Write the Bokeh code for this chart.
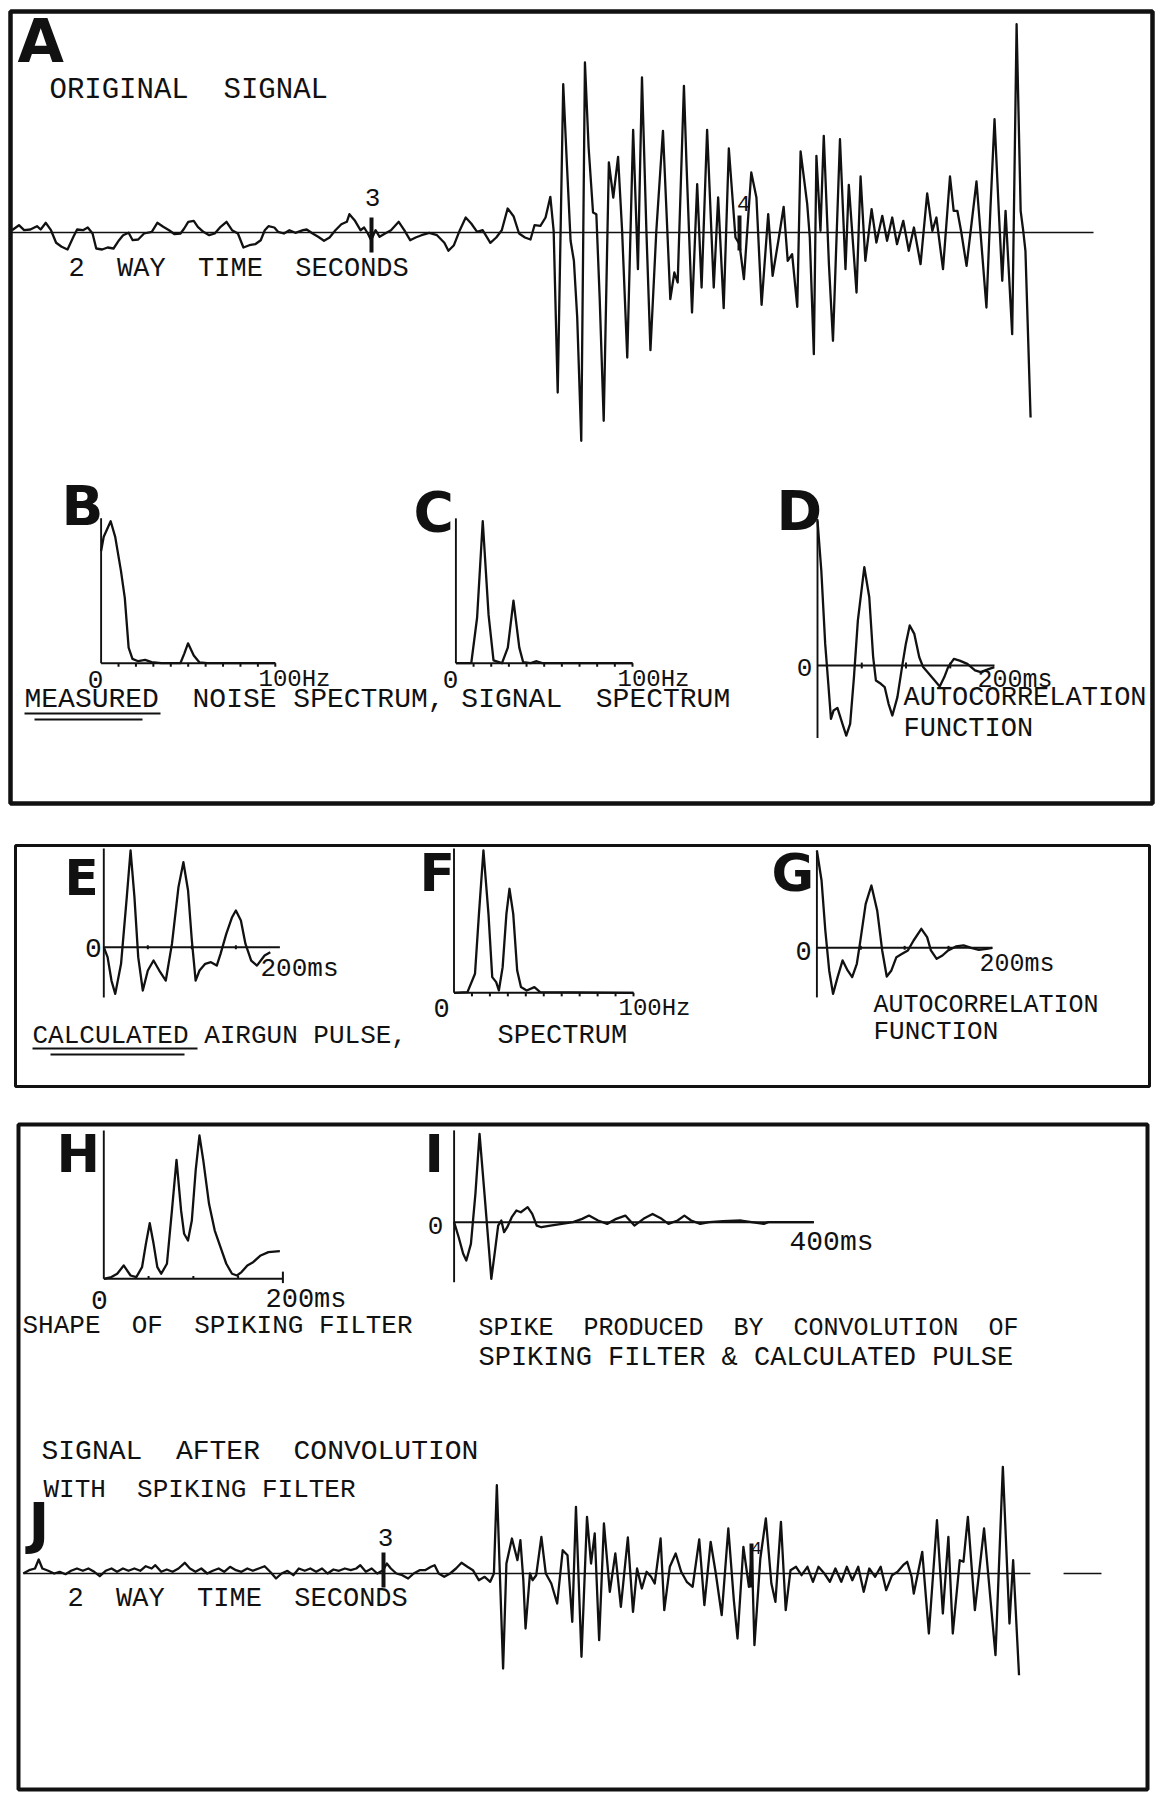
from bokeh.plotting import figure
from bokeh.models import Range1d
from bokeh.embed import file_html
from bokeh.resources import INLINE
from bokeh.core.properties import value

# ---------------- data ----------------
# A: original signal (two-way time in s, amplitude arbitrary units)
A_noise_t = [2.023, 2.042, 2.056, 2.073, 2.091, 2.101, 2.115, 2.129, 2.143, 2.158,
             2.174, 2.190, 2.200, 2.216, 2.229, 2.242, 2.252, 2.268, 2.283, 2.299,
             2.314, 2.325, 2.340, 2.351, 2.366, 2.382, 2.403, 2.418, 2.434, 2.450,
             2.465, 2.481, 2.491, 2.502, 2.517, 2.528, 2.543, 2.559, 2.574, 2.590,
             2.606, 2.621, 2.637, 2.652, 2.668, 2.684, 2.699, 2.710, 2.720, 2.736,
             2.746, 2.762, 2.777, 2.793, 2.814, 2.824, 2.840, 2.855, 2.871, 2.886,
             2.902, 2.918, 2.933, 2.940, 2.954, 2.970, 2.980, 2.990, 2.999, 3.011,
             3.022, 3.037, 3.053, 3.074, 3.089, 3.105, 3.120, 3.136, 3.157, 3.178,
             3.198, 3.209, 3.224, 3.240, 3.256, 3.271, 3.287, 3.302, 3.323, 3.339,
             3.354, 3.370, 3.386, 3.401, 3.417, 3.432, 3.443]
A_noise_amp = [2.3, 7.3, 2.3, 3.0, 6.3, 3.0, 9.7, 2.3, -10.3, -14.3,
               -17.0, -4.3, 3.0, 2.3, 5.0, -1.0, -16.0, -17.0, -15.0, -16.0,
               -7.7, -2.7, -0.3, -7.7, -7.0, -1.0, 0.7, 9.7, 5.7, 2.3,
               -1.7, -1.0, 4.0, 10.7, 11.7, 5.7, 0.7, -2.7, -1.0, 5.7,
               10.7, 2.3, -1.0, -15.0, -12.7, -11.7, -7.7, 2.3, 6.3, 5.0,
               0.7, -1.0, 2.3, -0.3, 2.3, 3.0, -1.0, -4.3, -8.3, -5.0,
               2.3, 8.3, 10.7, 18.3, 12.3, 2.3, 5.0, -1.0, -7.7, 2.3,
               -4.3, -1.0, 2.3, 10.7, 2.3, -7.7, -5.0, -2.7, -0.3, -2.7,
               -10.3, -18.3, -12.7, 2.3, 15.0, 9.0, 0.7, 2.3, -10.3, -5.0,
               2.3, 24.0, 16.3, -1.0, -5.0, -7.0, 7.3]
A_sig_t = [3.459, 3.473, 3.486, 3.495, 3.506, 3.521, 3.531, 3.541, 3.550, 3.559,
           3.570, 3.580, 3.590, 3.602, 3.611, 3.620, 3.631, 3.645, 3.657, 3.670,
           3.681, 3.695, 3.711, 3.724, 3.735, 3.747, 3.758, 3.774, 3.792, 3.812,
           3.823, 3.832, 3.849, 3.856, 3.871, 3.885, 3.897, 3.912, 3.930, 3.942,
           3.957, 3.971, 3.989, 4.000, 4.012, 4.032, 4.046, 4.060, 4.078, 4.090,
           4.107, 4.120, 4.131, 4.143, 4.157, 4.166, 4.184, 4.191, 4.202, 4.209,
           4.220, 4.229, 4.243, 4.254, 4.273, 4.288, 4.297, 4.318, 4.329, 4.342,
           4.359, 4.372, 4.388, 4.401, 4.415, 4.428, 4.445, 4.460, 4.474, 4.492,
           4.510, 4.524, 4.535, 4.553, 4.572, 4.582, 4.592, 4.602, 4.617, 4.644,
           4.671, 4.682, 4.693, 4.705, 4.714, 4.723, 4.741, 4.753, 4.764, 4.771,
           4.777, 4.791]
A_sig_amp = [6.7, 15.0, 35.7, 1.7, -160.0, 148.3, 68.3, -8.3, -28.3, -85.0,
             -208.3, 170.0, 85.0, 20.0, 18.3, -65.0, -188.3, 70.0, 35.0, 75.7,
             1.7, -125.0, 102.7, -36.7, 155.0, 1.7, -117.7, 1.7, 101.7, -66.7,
             -40.0, -50.0, 146.7, 68.3, -80.0, 48.3, -55.0, 102.7, -55.0, 35.0,
             -75.7, 84.0, -5.0, -11.7, -46.7, 60.0, 35.0, -72.3, 18.3, -43.3,
             -5.0, 25.7, -28.3, -21.7, -74.3, 81.0, 28.3, -5.0, -121.7, 76.7,
             1.7, 96.7, -31.7, -108.3, 93.3, -36.7, 47.7, -60.0, 56.0, -28.3,
             23.3, -10.0, 16.7, -8.3, 15.0, -11.7, 11.7, -18.3, 5.0, -31.7,
             39.0, 1.7, 15.0, -36.7, 56.0, 21.7, 21.7, 1.7, -33.3, 51.0,
             -75.0, 25.0, 113.3, 18.3, -48.3, 21.7, -101.7, 208.3, 21.7, 1.7,
             -18.3, -185.0]

# J: signal after convolution with spiking filter
J_noise_t = [2.021, 2.037, 2.053, 2.063, 2.073, 2.089, 2.105, 2.120, 2.136, 2.151,
             2.167, 2.183, 2.198, 2.214, 2.229, 2.245, 2.261, 2.276, 2.292, 2.307,
             2.323, 2.339, 2.354, 2.370, 2.380, 2.396, 2.411, 2.427, 2.443, 2.460,
             2.474, 2.489, 2.505, 2.521, 2.536, 2.552, 2.567, 2.583, 2.599, 2.614,
             2.630, 2.645, 2.661, 2.677, 2.692, 2.708, 2.723, 2.739, 2.755, 2.770,
             2.786, 2.801, 2.817, 2.833, 2.848, 2.864, 2.879, 2.895, 2.911, 2.926,
             2.937, 2.952, 2.968, 2.983, 2.999, 3.009, 3.020, 3.035, 3.051, 3.067,
             3.082, 3.098, 3.113, 3.129, 3.139, 3.150, 3.165, 3.181, 3.197, 3.212,
             3.228, 3.243, 3.259, 3.275, 3.290]
J_noise_amp = [0, 3.3, 5.0, 14.0, 5.0, 2.7, 0, 1.7, -0.7, 2.7,
               5.0, 2.7, 5.0, 1.7, -2.7, 2.7, 5.0, 1.7, 5.0, 2.7,
               5.0, 2.7, 7.3, 5.0, 8.3, 1.7, 4.0, 1.7, 5.0, 10.7,
               5.0, 1.7, 5.0, 0, 2.7, 5.0, 1.7, 6.7, 3.3, 1.7,
               5.0, 2.7, 5.0, 7.3, 1.7, -5.0, 0, 2.7, -1.7, 5.0,
               2.7, 5.0, 1.7, 5.0, 0, 4.0, 2.7, 5.0, 3.3, 5.0,
               8.3, 1.7, 5.0, 0, 3.3, 10.0, 5.0, 0, -1.7, -5.0,
               0, 3.3, 3.3, 6.7, 8.3, 0, -3.3, 0, 5.0, 10.7,
               6.7, 3.3, -6.7, -3.3, -8.3]
J_sig_t = [3.300, 3.308, 3.325, 3.334, 3.349, 3.364, 3.372, 3.380, 3.386, 3.398,
           3.405, 3.415, 3.429, 3.441, 3.456, 3.472, 3.487, 3.500, 3.513, 3.523,
           3.538, 3.553, 3.564, 3.574, 3.586, 3.599, 3.615, 3.630, 3.645, 3.664,
           3.678, 3.689, 3.702, 3.715, 3.727, 3.737, 3.753, 3.763, 3.778, 3.794,
           3.809, 3.824, 3.840, 3.858, 3.872, 3.889, 3.903, 3.919, 3.937, 3.952,
           3.962, 3.978, 3.993, 4.001, 4.008, 4.024, 4.039, 4.054, 4.065, 4.080,
           4.093, 4.106, 4.121, 4.136, 4.152, 4.167, 4.182, 4.198, 4.213, 4.228,
           4.244, 4.259, 4.274, 4.290, 4.305, 4.320, 4.336, 4.351, 4.366, 4.382,
           4.397, 4.412, 4.423, 4.435, 4.441, 4.464, 4.482, 4.504, 4.520, 4.535,
           4.547, 4.566, 4.576, 4.588, 4.607, 4.632, 4.663, 4.683, 4.701, 4.711,
           4.727]
J_sig_amp = [0, 88.3, -95.0, 10.0, 35.0, 13.3, 33.3, -6.7, -55.0, 0,
             -6.7, -1.7, 36.7, 0, -10.0, -30.0, 23.3, 18.3, -48.3, 66.7,
             -83.3, 56.7, 10.0, 40.0, -66.7, 50.0, -18.3, 20.0, -33.3, 36.0,
             -38.3, 5.0, -15.0, 1.7, -3.3, -10.0, 35.0, -36.7, 6.7, 20.0,
             1.7, -8.3, -13.3, 34.0, -31.7, 31.7, 0, -41.7, 45.0, -26.7,
             -65.0, 26.7, -13.3, 18.3, -71.7, 15.0, 55.0, -10.0, -28.3, 51.7,
             -36.7, 3.3, 6.7, -1.7, 6.7, -8.3, 6.7, 0, -8.3, 5.0,
             -8.3, 6.7, -6.7, 6.7, -18.3, 5.0, -3.3, 6.7, -16.7, -1.7,
             1.7, 8.3, 11.7, -3.3, -20.0, 21.7, -60.0, 53.3, -40.0, 36.7,
             -60.0, 13.3, 11.7, 56.7, -36.7, 45.0, -81.7, 106.7, -50.0, 13.3,
             -101.7]
TIME_MARKS = [3, 4]
TRACE_START, A_END, J_END = 2.022, 4.962, 4.758

# B: measured noise spectrum (Hz, relative amplitude)
B_hz = [0, 1.5, 5.5, 8.1, 11.4, 13.6, 15.8, 18, 21.3, 25.3, 29, 34.5, 45.5, 47.7, 49.9, 53.2, 56.5, 61, 100]
B_amp = [0.79, 0.89, 1.0, 0.89, 0.65, 0.46, 0.11, 0.03, 0.014, 0.023, 0.007, 0, 0, 0.066, 0.14, 0.054, 0.005, 0, 0]
# C: measured signal spectrum
C_hz = [0, 8.7, 12.0, 15.2, 18.5, 21.3, 26.1, 29.4, 32.6, 35.9, 38.1, 42.4, 45.7, 48.9, 100]
C_amp = [0, 0, 0.32, 1.0, 0.34, 0.02, 0, 0.11, 0.44, 0.11, 0.007, 0, 0.014, 0, 0]
# D: measured autocorrelation (ms)
D_ms = [0, 4.3, 8.7, 12.2, 15.2, 18.2, 22.5, 28.2, 32.5, 36.9, 41.2, 45.6, 52.9, 58.5, 62.9, 66.0,
        71.6, 75.9, 80.3, 84.6, 90.3, 95.5, 99.8, 104.2, 109.4, 115.0, 119.4, 125.9, 132.4, 138.1,
        143.3, 147.6, 154.1, 160.6, 169.3, 178.0, 184.5, 191.0, 199.8]
D_amp = [1.0, 0.655, 0.149, -0.126, -0.368, -0.310, -0.292, -0.402, -0.483, -0.402, -0.08, 0.31,
         0.678, 0.471, 0.057, -0.103, -0.126, -0.149, -0.264, -0.345, -0.218, -0.011, 0.149, 0.276,
         0.218, 0.057, -0.011, -0.057, -0.103, -0.145, -0.080, -0.011, 0.046, 0.034, 0.011, -0.034,
         -0.046, -0.030, -0.011]
# E: calculated airgun pulse
E_ms = [0, 4.3, 8.7, 13.0, 19.6, 26.1, 30.4, 34.8, 39.1, 44.3, 50.0, 56.5, 63.0, 70.4, 77.4, 84.8,
        90.4, 95.7, 100.0, 104.3, 108.7, 115.2, 121.7, 128.3, 132.6, 139.1, 145.7, 150.0, 155.7,
        160.9, 167.4, 173.9, 182.6, 189.1]
E_amp = [0, -0.103, -0.345, -0.483, -0.172, 0.517, 1.0, 0.517, -0.103, -0.448, -0.241, -0.138,
         -0.241, -0.345, 0.034, 0.621, 0.879, 0.586, 0.069, -0.345, -0.241, -0.172, -0.155, -0.190,
         -0.069, 0.138, 0.310, 0.379, 0.276, 0.034, -0.138, -0.190, -0.086, -0.052]
# F: spectrum of calculated pulse
F_hz = [0, 7.5, 11.7, 13.9, 16.4, 19.2, 21.3, 23.5, 25.0, 27.1, 29.2, 30.9, 33.0, 35.2, 37.3, 40.5, 44.8, 48.0, 100]
F_amp = [0, 0.005, 0.134, 0.555, 1.0, 0.555, 0.110, 0.075, 0.016, 0.180, 0.555, 0.731, 0.555, 0.157,
         0.040, 0.016, 0.040, 0.005, 0]
# G: autocorrelation of calculated pulse
G_ms = [0, 5.3, 9.6, 14.0, 18.4, 23.6, 29.3, 35.0, 40.2, 45.5, 49.0, 55.6, 62.1, 68.7, 74.4, 79.6,
        84.9, 90.6, 97.1, 103.7, 110.2, 119.0, 125.6, 129.9, 136.5, 143.1, 149.6, 158.4, 167.2,
        175.8, 184.6, 193.4, 200]
G_amp = [1.0, 0.692, 0.178, -0.233, -0.473, -0.301, -0.130, -0.233, -0.301, -0.164, 0.041, 0.452,
         0.640, 0.384, -0.027, -0.295, -0.233, -0.096, -0.062, -0.027, 0.075, 0.195, 0.110, -0.027,
         -0.113, -0.079, -0.027, 0.014, 0.024, 0, -0.021, -0.010, 0]
# H: shape of spiking filter
H_ms = [0, 8.5, 15.0, 22.2, 29.9, 36.3, 42.7, 47.0, 51.3, 55.6, 59.8, 64.1, 70.5, 76.1, 81.2, 86.3,
        89.7, 94.0, 98.3, 102.6, 106.8, 111.1, 117.5, 123.9, 130.3, 136.8, 143.2, 148.7, 153.8,
        160.3, 166.7, 175.2, 183.8, 196.6]
H_amp = [0, 0.012, 0.035, 0.093, 0.023, 0.012, 0.081, 0.244, 0.388, 0.244, 0.081, 0.035, 0.105,
         0.477, 0.830, 0.477, 0.314, 0.267, 0.407, 0.756, 1.0, 0.826, 0.523, 0.337, 0.221, 0.105,
         0.035, 0.023, 0.047, 0.093, 0.116, 0.163, 0.186, 0.193]
# I: spike produced by convolution
I_ms = [0, 5.1, 10.1, 13.6, 18.7, 23.7, 28.3, 33.8, 38.9, 41.4, 45.5, 49.0, 52.5, 55.6, 59.1, 64.1,
        69.2, 74.2, 81.8, 86.9, 91.9, 97.0, 107.1, 119.7, 132.3, 142.4, 150.0, 160.1, 170.2, 180.3,
        190.4, 200.5, 210.6, 220.7, 230.8, 238.4, 248.5, 256.1, 263.6, 273.7, 283.8, 299.0, 319.2,
        344.4, 349.5, 400]
I_amp = [0, -0.170, -0.358, -0.434, -0.245, 0.321, 1.0, 0.321, -0.321, -0.642, -0.321, -0.038,
         0.019, -0.113, -0.057, 0.057, 0.132, 0.113, 0.170, 0.094, -0.038, -0.057, -0.038, -0.019,
         0, 0.038, 0.075, 0.019, -0.019, 0.038, 0.075, -0.038, 0.038, 0.094, 0.038, -0.019, 0.019,
         0.075, 0.019, -0.019, 0, 0.011, 0.019, -0.019, 0, 0]

HZ_TICKS = [10, 20, 30, 40, 50, 60, 70, 80, 90, 100]
MS_TICKS = [50, 100, 150]

# ---------------- page figure ----------------
W, H = 1162, 1795
p = figure(width=W, height=H, x_range=Range1d(0, W), y_range=Range1d(H, 0),
           output_backend="svg", toolbar_location=None, min_border=0,
           x_axis_location=None, y_axis_location=None)
p.xgrid.visible = False
p.ygrid.visible = False
p.outline_line_color = None
p.background_fill_color = "white"
p.border_fill_color = "white"

XR, YR = {}, {}


def panel(name, xd, xp, yd, yp):
    """Place a sub-panel: data xd/yd map to page pixels xp/yp."""
    (d0, d1), (px0, px1) = xd, xp
    s = (px1 - px0) / (d1 - d0)
    XR[name] = Range1d(d0 - px0 / s, d0 + (W - px0) / s)
    (v0, v1), (py0, py1) = yd, yp
    k = (v1 - v0) / (py1 - py0)
    YR[name] = Range1d(v0 + (H - py0) * k, v0 + (0 - py0) * k)


panel("A", (3, 4), (371, 739), (0, 100), (232, 132))
panel("J", (3, 4), (383, 751), (0, 100), (1573, 1473))
panel("B", (0, 100), (100.6, 274.8), (0, 1), (662.7, 520.7))
panel("C", (0, 100), (455.4, 632), (0, 1), (662.7, 520.7))
panel("D", (0, 200), (817, 994), (0, 1), (665, 520))
panel("E", (0, 200), (103.3, 279.4), (0, 1), (946.7, 850))
panel("F", (0, 100), (453.5, 633), (0, 1), (992.3, 850))
panel("G", (0, 200), (816.4, 991.9), (0, 1), (947.3, 850))
panel("H", (0, 200), (103.3, 282.4), (0, 1), (1278.3, 1135))
panel("I", (0, 400), (453.6, 813.3), (0, 1), (1221.7, 1133.4))
p.extra_x_ranges = XR
p.extra_y_ranges = YR

INK = "#111111"
LW = 2.3


def ln(name, x, y, w=LW):
    p.line(x, y, x_range_name=name, y_range_name=name, line_color=INK,
           line_width=w, line_join="round")


def ticks(name, xs, y0, y1, w=2.0):
    p.segment(x0=xs, y0=[y0] * len(xs), x1=xs, y1=[y1] * len(xs),
              x_range_name=name, y_range_name=name, line_color=INK, line_width=w)


# frames
p.quad(left=[10, 15, 18], right=[1152, 1149, 1147], top=[11, 845, 1124],
       bottom=[803, 1086, 1789], fill_color=None, line_color=INK, line_width=[4.5, 3, 4])

# A
ln("A", [TRACE_START, A_END], [0, 0], 1.7)
ln("A", A_noise_t + A_sig_t, A_noise_amp + A_sig_amp)
p.segment(x0=TIME_MARKS, y0=[15, 17], x1=TIME_MARKS, y1=[-20, -18],
          x_range_name="A", y_range_name="A", line_color=INK, line_width=4)
# J
ln("J", [TRACE_START, J_END], [0, 0], 1.7)
ln("J", [4.848, 4.951], [0, 0], 1.7)
ln("J", J_noise_t + J_sig_t, J_noise_amp + J_sig_amp)
p.segment(x0=TIME_MARKS, y0=[21, 30], x1=TIME_MARKS, y1=[-14, -14],
          x_range_name="J", y_range_name="J", line_color=INK, line_width=4)

# spectra
for nm, xs, ys, top in (("B", B_hz, B_amp, 1.02), ("C", C_hz, C_amp, 1.02), ("F", F_hz, F_amp, 1.014)):
    ln(nm, [0, 0], [0, top], 1.9)
    ln(nm, [0, 100], [0, 0], 2.1)
    ticks(nm, HZ_TICKS, 0, -0.025)
    ln(nm, xs, ys)

# autocorrelations / pulse
for nm, xs, ys, lo, hi in (("D", D_ms, D_amp, -0.5, 1.01), ("E", E_ms, E_amp, -0.52, 1.02),
                           ("G", G_ms, G_amp, -0.51, 1.0)):
    ln(nm, [0, 0], [lo, hi], 1.9)
    ln(nm, [0, 200], [0, 0], 1.9)
    ticks(nm, MS_TICKS, -0.02, 0.02)
    ln(nm, xs, ys)

# H
ln("H", [0, 0], [0, 1.035], 1.9)
ln("H", [0, 200], [0, 0], 1.9)
ticks("H", MS_TICKS, 0, 0.02)
ticks("H", [200], -0.03, 0.05)
ln("H", H_ms, H_amp)
# I
ln("I", [0, 0], [-0.68, 1.04], 1.9)
ln("I", [0, 400], [0, 0], 1.9)
ln("I", I_ms, I_amp)

# underlines
for x0, x1, y in ((24, 160, 713), (34, 142, 719), (32, 197, 1048), (50, 184, 1054)):
    p.line([x0, x1], [y, y], line_color=INK, line_width=2)

# panel letters (y = vertical centre of the glyph)
LETTERS = [("A", 17, 40, 60), ("B", 61, 505, 55), ("C", 413, 511, 55), ("D", 776, 510, 55),
           ("E", 64, 877, 50), ("F", 419, 872, 52), ("G", 771, 872, 52), ("H", 56, 1153, 52),
           ("I", 424, 1153, 52), ("J", 28, 1522, 56)]
for t, x, y, s in LETTERS:
    p.text(x=[x], y=[y], text=[t], text_font=value("DejaVu Sans"), text_font_style="bold",
           text_font_size=f"{s}px", text_align="left", text_baseline="middle", text_color=INK)

NB = "\u00a0"  # keeps the wide word gaps of the original lettering
TEXTS = [
    (f"ORIGINAL{NB} SIGNAL", 49, 90, 29, "left"),
    (f"2{NB} WAY{NB} TIME{NB} SECONDS", 68, 268.5, 27, "left"),
    ("3", 372, 197, 26, "center"),
    ("4", 743, 203, 22, "center"),
    ("0", 95, 678.5, 26, "center"),
    ("100Hz", 258, 678.5, 24, "left"),
    ("0", 450, 678.5, 26, "center"),
    ("100Hz", 617, 678.5, 24, "left"),
    ("0", 804, 666.5, 26, "center"),
    ("200ms", 977, 680, 25, "left"),
    ("AUTOCORRELATION", 903, 697, 27, "left"),
    ("FUNCTION", 903, 728.5, 27, "left"),
    (f"MEASURED{NB} NOISE SPECTRUM, SIGNAL{NB} SPECTRUM", 24, 699, 28, "left"),
    ("0", 93, 947, 28, "center"),
    ("200ms", 260, 968.5, 26, "left"),
    ("0", 441, 1007.5, 27, "center"),
    ("100Hz", 618, 1007.5, 24, "left"),
    ("0", 803, 950, 27, "center"),
    ("200ms", 979, 964, 25, "left"),
    ("AUTOCORRELATION", 873, 1005, 25, "left"),
    ("FUNCTION", 873, 1031.5, 26, "left"),
    ("CALCULATED AIRGUN PULSE,", 32, 1035, 26, "left"),
    ("SPECTRUM", 497, 1035, 27, "left"),
    ("0", 99, 1299, 28, "center"),
    ("200ms", 265, 1299, 27, "left"),
    (f"SHAPE{NB} OF{NB} SPIKING FILTER", 22, 1325, 26, "left"),
    ("0", 435, 1225, 26, "center"),
    ("400ms", 789, 1241.5, 28, "left"),
    (f"SPIKE{NB} PRODUCED{NB} BY{NB} CONVOLUTION{NB} OF", 478, 1328, 25, "left"),
    ("SPIKING FILTER & CALCULATED PULSE", 478, 1357.5, 27, "left"),
    (f"SIGNAL{NB} AFTER{NB} CONVOLUTION", 41, 1451, 28, "left"),
    (f"WITH{NB} SPIKING FILTER", 43, 1489, 26, "left"),
    ("3", 385, 1537, 26, "center"),
    (f"2{NB} WAY{NB} TIME{NB} SECONDS", 67, 1598, 27, "left"),
    ("4", 756, 1547, 18, "center"),
]
for t, x, y, s, a in TEXTS:
    p.text(x=[x], y=[y], text=[t], text_font=value("Liberation Mono"), text_font_size=f"{s}px",
           text_align=a, text_baseline="middle", text_color=INK)

open("out.html", "w").write(file_html(p, INLINE))
